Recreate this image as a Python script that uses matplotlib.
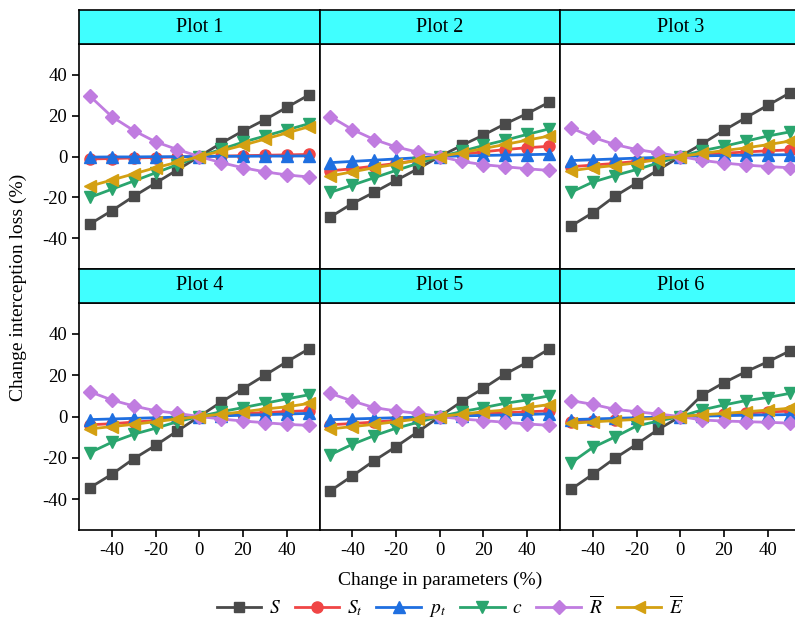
import numpy as np
import matplotlib
matplotlib.use("Agg")
import matplotlib.pyplot as plt

plt.rcParams['font.family'] = ['Liberation Serif', 'DejaVu Serif']
plt.rcParams['mathtext.fontset'] = 'stix'
plt.rcParams['axes.unicode_minus'] = False

# parameter change (%)
x = [-50, -40, -30, -20, -10, 0, 10, 20, 30, 40, 50]

titles = ['Plot 1', 'Plot 2', 'Plot 3', 'Plot 4', 'Plot 5', 'Plot 6']

# change in interception loss (%), one list per plot
S = [
    [-33, -26.5, -19.5, -13, -6.5, 0, 6.5, 12.5, 18, 24, 30],
    [-29.5, -23, -17.5, -11.7, -6, 0, 5.4, 10.5, 16, 21, 26.5],
    [-34, -27.5, -19.5, -13, -6.5, 0, 6.2, 12.8, 19, 25, 31],
    [-34.5, -28, -20.5, -14, -7, 0, 7, 13.5, 20, 26.5, 32.7],
    [-36, -28.8, -21.4, -14.6, -7.4, 0, 7.2, 13.7, 20.6, 26.3, 32.7],
    [-35.3, -28, -20.3, -13.5, -6.2, 0, 10.4, 16.4, 21.7, 26.5, 31.7],
]
St = [
    [-1.2, -1, -0.7, -0.5, -0.2, 0, 0.2, 0.4, 0.6, 0.8, 1.0],
    [-7, -6, -4.7, -3.4, -1.8, 0, 1.1, 2.3, 3.4, 4.3, 5],
    [-5, -4.2, -3.4, -2.4, -1.1, 0, 0.8, 1.6, 2.2, 2.8, 3.2],
    [-4, -3.5, -2.7, -2, -1, 0, 0.7, 1.4, 1.9, 2.4, 2.8],
    [-4, -3.4, -2.7, -1.9, -1, 0, 0.7, 1.3, 1.8, 2.3, 2.7],
    [-2.5, -2, -1.6, -1.1, -0.5, 0, 0.6, 1.2, 1.7, 2.2, 2.6],
]
pt = [
    [-0.3, -0.2, -0.2, -0.1, -0.1, 0, 0.1, 0.1, 0.2, 0.2, 0.3],
    [-3, -2.4, -1.8, -1.2, -0.6, 0, 0.3, 0.5, 0.7, 0.9, 1.1],
    [-2, -1.6, -1.2, -0.8, -0.4, 0, 0.3, 0.5, 0.6, 0.8, 0.9],
    [-1.5, -1.2, -0.9, -0.6, -0.3, 0, 0.3, 0.6, 0.9, 1.2, 1.5],
    [-1.5, -1.2, -0.9, -0.6, -0.3, 0, 0.3, 0.5, 0.8, 1.0, 1.3],
    [-1.5, -1.2, -0.9, -0.6, -0.3, 0, 0.2, 0.4, 0.6, 0.8, 0.9],
]
c = [
    [-20, -16, -12, -8, -4, 0, 3.5, 7, 10, 13, 16],
    [-17.5, -14, -10.4, -6.8, -3.4, 0, 2.5, 5.4, 8, 10.8, 13.5],
    [-17.5, -12.5, -9.3, -6.4, -3.1, 0, 2.8, 5, 7.5, 10, 12],
    [-17.5, -12.5, -8.6, -5.7, -2.5, 0, 2.3, 4.3, 6.4, 8.5, 10.5],
    [-18.5, -13.5, -9.3, -5.7, -2.8, 0, 2.3, 4.3, 6.4, 8, 10],
    [-22.5, -15, -10, -4.6, -2.2, 0, 3.2, 5.6, 7.7, 9.2, 11.2],
]
R = [
    [29.5, 19.5, 12.7, 7.2, 3.4, 0, -3, -5.5, -7.5, -9, -10],
    [19.5, 13.2, 8.3, 4.7, 2.1, 0, -2.4, -4, -5, -6, -6.8],
    [14, 9.4, 5.9, 3.4, 1.8, 0, -1.9, -3.2, -4.2, -4.9, -5.5],
    [12, 8, 5.1, 2.8, 1.5, 0, -1.2, -2.2, -3, -3.8, -4.3],
    [11.2, 7.5, 4.3, 2.7, 1.5, 0, -1.2, -2, -2.8, -3.6, -4.3],
    [7.7, 5.9, 3.5, 2.3, 1.2, 0, -1.7, -2.2, -2.5, -2.8, -3.2],
]
E = [
    [-14.5, -11.5, -8.5, -5.5, -2.8, 0, 2.7, 5.5, 8.5, 11.5, 14.5],
    [-9.5, -7.5, -5.5, -3.8, -1.8, 0, 1.8, 3.9, 5.9, 8, 10],
    [-7, -5.5, -4.4, -3.1, -1.5, 0, 1.5, 2.9, 4.2, 5.8, 7.5],
    [-6, -4.9, -3.8, -2.5, -1.2, 0, 1.1, 2.3, 3.6, 4.7, 6.3],
    [-6, -4.9, -3.8, -2.5, -1.2, 0, 1.1, 2.3, 3.1, 4.3, 5.8],
    [-3.3, -2.6, -2, -1.4, -0.9, 0, 0.8, 1.5, 2.3, 3.1, 4],
]

series = [
    (S, r'$S$', '#4a4a4a', 's', 7),
    (St, r'$S_t$', '#f04545', 'o', 8),
    (pt, r'$p_t$', '#1f6fe0', '^', 8),
    (c, r'$c$', '#2aa56e', 'v', 8),
    (R, r'$\overline{R}$', '#c07ce0', 'D', 7),
    (E, r'$\overline{E}$', '#d4a012', '<', 8),
]

fig = plt.figure(figsize=(7.95, 6.27), dpi=100)

left = 79 / 795
w = 240.5 / 795
# plot area bottoms/heights (fig fraction)
rows = [(1 - 269 / 627, 225 / 627), (1 - 530 / 627, 227 / 627)]
strip_h = 34 / 627

handles = []
for k in range(6):
    r, col = divmod(k, 3)
    b, h = rows[r]
    ax = fig.add_axes([left + col * w, b, w, h])
    for data, lab, colr, mk, ms in series:
        ln, = ax.plot(x, data[k], color=colr, marker=mk, markersize=ms,
                      linewidth=2, label=lab, clip_on=False)
        if k == 0:
            handles.append(ln)
    ax.set_xlim(-55, 55)
    ax.set_ylim(-55, 55)
    ax.set_xticks([-40, -20, 0, 20, 40])
    ax.set_yticks([-40, -20, 0, 20, 40])
    ax.tick_params(direction='out', length=5, width=1.2, labelsize=13.5)
    if r == 0:
        ax.tick_params(axis='x', bottom=False, labelbottom=False)
    if col != 0:
        ax.tick_params(axis='y', left=False, labelleft=False)
    for sp in ax.spines.values():
        sp.set_linewidth(1.2)

    sax = fig.add_axes([left + col * w, b + h, w, strip_h])
    sax.set_facecolor('#40ffff')
    sax.set_xticks([])
    sax.set_yticks([])
    for sp in sax.spines.values():
        sp.set_linewidth(1.2)
    sax.text(0.5, 0.5, titles[k], ha='center', va='center',
             fontsize=14.5, transform=sax.transAxes)

fig.text(18 / 795, 1 - 287 / 627, 'Change interception loss (%)',
         rotation=90, ha='center', va='center', fontsize=14)
fig.text(440 / 795, 1 - 580 / 627, 'Change in parameters (%)',
         ha='center', va='center', fontsize=14)
fig.legend(handles=handles, loc='center', bbox_to_anchor=(450 / 795, 1 - 607 / 627),
           ncol=6, frameon=False, fontsize=14, handlelength=2.3,
           columnspacing=0.7, handletextpad=0.4)

fig.savefig('out.png', dpi=100)
